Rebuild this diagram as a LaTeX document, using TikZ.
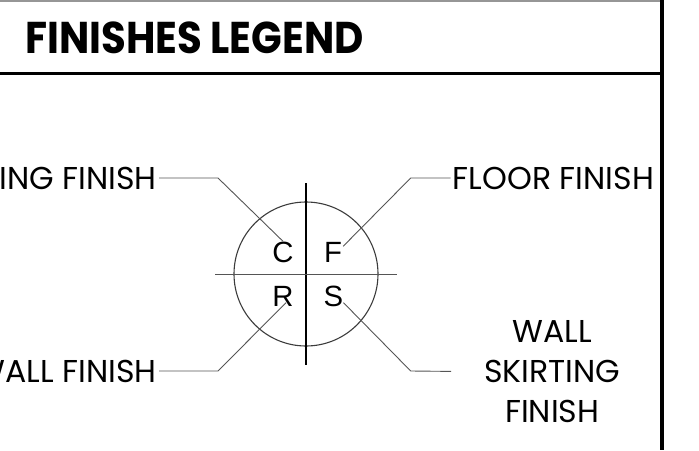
\documentclass[tikz,border=0pt]{standalone}
\usepackage{fontspec}
\usetikzlibrary{calc}
\newfontfamily\legendfont{Poppins}
\newfontfamily\keyfont{Liberation Sans}
\definecolor{rulegray}{RGB}{150,150,150}
\definecolor{leadgray}{RGB}{85,85,85}
\definecolor{crossgray}{RGB}{60,60,60}
\tikzset{
  heading/.style  = {font=\legendfont\bfseries\fontsize{44.5}{46}\selectfont,
                     anchor=base west,inner sep=0pt,xscale=0.905},
  lbl/.style      = {font=\legendfont\fontsize{31.6}{40}\selectfont,
                     inner xsep=2pt,inner ysep=0pt,text height=22pt,text depth=0pt},
  multilbl/.style = {font=\legendfont\fontsize{31.6}{40}\selectfont,
                     inner xsep=2pt,inner ysep=0pt,align=center,text width=198pt},
  keyletter/.style= {font=\keyfont\fontsize{29.3}{30}\selectfont,
                     inner sep=0pt,text height=21pt,text depth=0pt},
  leader/.style   = {draw=leadgray,line width=0.9pt},
}

\begin{document}
\begin{tikzpicture}[x=1pt,y=-1pt]
  \useasboundingbox (0,0) rectangle (699,450);
  \clip (0,0) rectangle (699,450);

  \draw[rulegray,line width=1.5pt] (0,1) -- (662,1);
  \draw[line width=3pt] (0,73.3) -- (662,73.3);
  \draw[line width=4pt] (662,0) -- (662,450);
  \node[heading] (title) at (25,53) {FINISHES LEGEND};

  \draw[crossgray,line width=1.1pt] (306,274) circle (72);
  \draw[black,line width=1.4pt] (306,183) -- (306,365);
  \draw[leadgray,line width=1pt] (215,274) -- (397,274);

  \node[keyletter] (lc) at (283,252) {C};
  \node[keyletter] (lf) at (333,252) {F};
  \node[keyletter] (lr) at (283,296) {R};
  \node[keyletter] (ls) at (333.5,296) {S};

  \node[lbl,anchor=east] (ceiling) at (159,178) {CEILING FINISH};
  \node[lbl,anchor=west] (floor) at (450.7,178) {FLOOR FINISH};
  \node[lbl,anchor=east] (wall) at (159,371) {WALL FINISH};
  \node[multilbl,anchor=west] (skirting) at (451,371.4) {WALL\\SKIRTING\\FINISH};

  \coordinate (cbend) at (218,178);
  \coordinate (fbend) at (410.7,178);
  \coordinate (rbend) at (218,371);
  \coordinate (sbend) at (410.7,371);

  \draw[leader] (ceiling.east) -- (cbend) -- (lc.north);
  \draw[leader] (floor.west) -- (fbend) -- ($(lf.north east)+(1,5)$);
  \draw[leader] (wall.east) -- (rbend) -- ($(lr.south)+(3,-4)$);
  \draw[leader] (skirting.west) -- (sbend) -- ($(ls.south east)+(0,-4)$);
\end{tikzpicture}
\end{document}
